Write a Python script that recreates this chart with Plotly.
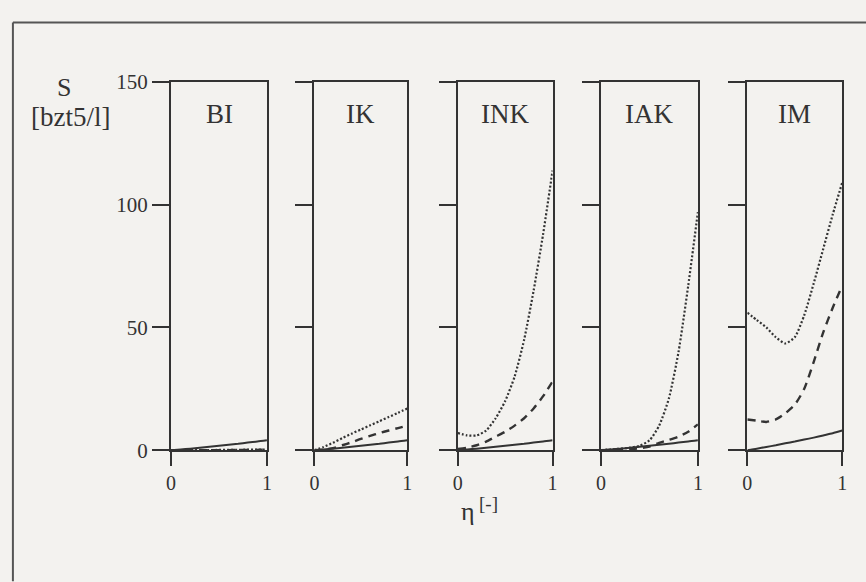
import plotly.graph_objects as go

# Efficiency grid shared by every panel
eta = [0.0, 0.1, 0.2, 0.3, 0.4, 0.5, 0.6, 0.7, 0.8, 0.9, 1.0]

panels = ["BI", "IK", "INK", "IAK", "IM"]

# S [bzt5/l] per panel: solid, dashed and dotted curves
s_solid = {
    "BI":  [0.0, 0.3, 0.6, 1.0, 1.4, 1.8, 2.2, 2.6, 3.1, 3.5, 4.0],
    "IK":  [0.0, 0.3, 0.6, 1.0, 1.4, 1.8, 2.2, 2.6, 3.1, 3.5, 4.0],
    "INK": [0.0, 0.3, 0.6, 1.0, 1.4, 1.8, 2.2, 2.6, 3.1, 3.5, 4.0],
    "IAK": [0.0, 0.3, 0.6, 1.0, 1.4, 1.8, 2.2, 2.6, 3.1, 3.5, 4.0],
    "IM":  [0.0, 0.6, 1.3, 2.0, 2.8, 3.5, 4.3, 5.1, 6.0, 6.9, 8.0],
}
s_dashed = {
    "BI":  [0.0, 0.0, 0.0, 0.0, 0.0, 0.0, 0.0, 0.1, 0.1, 0.1, 0.2],
    "IK":  [0.0, 0.2, 0.8, 2.0, 3.2, 4.6, 5.8, 7.0, 8.0, 9.0, 10.0],
    "INK": [0.5, 1.0, 2.0, 3.5, 5.5, 7.5, 10.0, 13.0, 17.0, 22.0, 28.0],
    "IAK": [0.0, 0.1, 0.2, 0.4, 0.8, 1.5, 3.0, 4.2, 5.5, 7.5, 10.5],
    "IM":  [12.5, 12.0, 11.5, 12.5, 15.0, 18.5, 25.0, 36.0, 48.0, 58.0, 67.0],
}
s_dotted = {
    "BI":  [0.0, 0.0, 0.0, 0.0, 0.0, 0.1, 0.1, 0.1, 0.2, 0.2, 0.3],
    "IK":  [0.0, 1.3, 3.0, 4.9, 6.7, 8.4, 10.1, 11.8, 13.5, 15.2, 17.0],
    "INK": [7.0, 6.0, 6.0, 8.0, 13.0, 20.0, 30.0, 45.0, 65.0, 88.0, 114.0],
    "IAK": [0.0, 0.3, 0.6, 1.0, 1.8, 4.0, 10.0, 21.0, 40.0, 67.0, 97.0],
    "IM":  [56.0, 53.0, 50.0, 46.0, 43.5, 46.0, 55.0, 68.0, 82.0, 96.0, 109.0],
}

y_ticks = [0, 50, 100, 150]
x_ticks = [0, 1]

W, H = 866, 582
INK_C = "#333333"
FONT = "Liberation Serif"


def fx(px):
    return px / W


def fy(py):
    return 1 - py / H


# panel edges in pixels
px_left = [168, 313, 458, 603, 751]
px_right = [265, 407, 554, 701, 847]
py_top, py_bottom = 73, 457

fig = go.Figure()
styles = [("solid", s_solid, 2.0), ("8px,6px", s_dashed, 2.4), ("2px,2px", s_dotted, 2.2)]

for i, name in enumerate(panels):
    ax = "" if i == 0 else str(i + 1)
    for dash, src, w in styles:
        fig.add_trace(go.Scatter(
            x=eta, y=src[name], mode="lines",
            line=dict(color=INK_C, width=w, dash=dash, shape="spline", smoothing=0.6),
            xaxis="x" + ax, yaxis="y" + ax, showlegend=False, hoverinfo="skip",
        ))
    fig.layout["xaxis" + ax] = dict(
        domain=[fx(px_left[i]), fx(px_right[i])], range=[0, 1], anchor="y" + ax,
        tickvals=x_ticks, ticktext=[str(v) for v in x_ticks],
        ticks="outside", ticklen=14, tickwidth=2, tickcolor=INK_C,
        showline=True, linewidth=2, linecolor=INK_C, mirror=True,
        showgrid=False, zeroline=False, fixedrange=True,
        tickfont=dict(family=FONT, size=20, color=INK_C),
    )
    fig.layout["yaxis" + ax] = dict(
        domain=[fy(py_bottom), fy(py_top)], range=[0, 150], anchor="x" + ax,
        tickvals=y_ticks, showticklabels=(i == 0),
        ticks="outside", ticklen=17, tickwidth=2, tickcolor=INK_C,
        showline=True, linewidth=2, linecolor=INK_C, mirror=True,
        showgrid=False, zeroline=False, fixedrange=True,
        tickfont=dict(family=FONT, size=21, color=INK_C),
    )
    fig.add_annotation(
        text=name, xref="paper", yref="paper",
        x=fx((px_left[i] + px_right[i]) / 2), y=fy(106),
        showarrow=False, xanchor="center", yanchor="middle",
        font=dict(family=FONT, size=27, color=INK_C),
    )


def label(text, x, y, size):
    fig.add_annotation(text=text, xref="paper", yref="paper", x=fx(x), y=fy(y),
                       showarrow=False, xanchor="center", yanchor="middle",
                       font=dict(family=FONT, size=size, color=INK_C))


# axis titles
label("S", 60, 79, 26)
label("[bzt5/l]", 66, 110, 27)
label("η", 468, 521, 26)
label("[-]", 489, 513, 19)

# frame around the figure
fig.add_shape(type="line", xref="paper", yref="paper", x0=fx(8), x1=1.02, y0=fy(11), y1=fy(11),
              line=dict(color="#555555", width=2))
fig.add_shape(type="line", xref="paper", yref="paper", x0=fx(8), x1=fx(8),
              y0=fy(11), y1=-0.02, line=dict(color="#555555", width=2))

fig.update_layout(
    width=W, height=H, margin=dict(l=0, r=0, t=0, b=0),
    paper_bgcolor="#f3f2ef", plot_bgcolor="rgba(0,0,0,0)",
)

fig.write_html("out.html")
